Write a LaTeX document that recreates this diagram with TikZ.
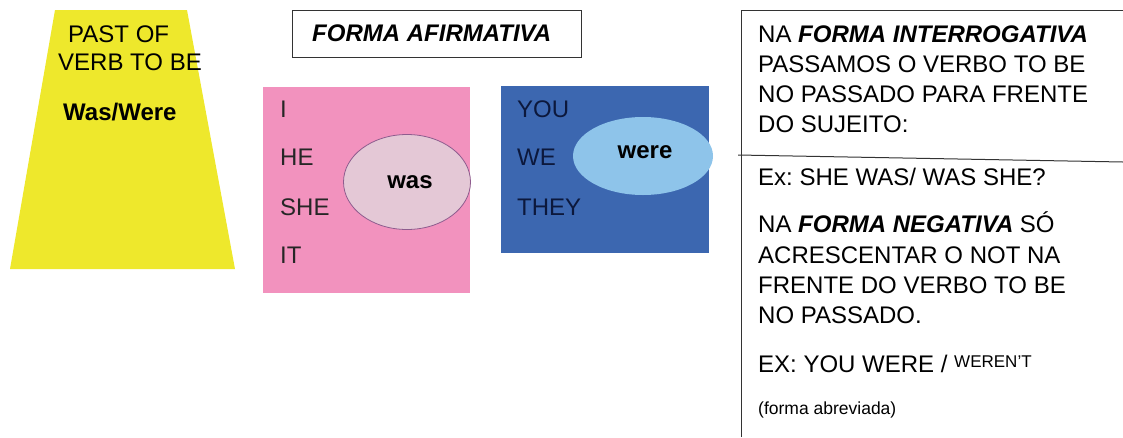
\documentclass[tikz,border=0pt]{standalone}
\usepackage{fontspec}
\setmainfont{Liberation Sans}
\usetikzlibrary{shapes.geometric}
\frenchspacing
\definecolor{ylw}{RGB}{238,232,44}
\definecolor{pnk}{RGB}{242,146,190}
\definecolor{blu}{RGB}{60,103,176}
\definecolor{lblu}{RGB}{142,196,234}
\definecolor{lpnk}{RGB}{228,200,214}
\definecolor{ellb}{RGB}{142,92,142}
\definecolor{navy}{RGB}{12,24,60}
\tikzset{
  big/.style={inner sep=0pt, anchor=base west, font=\fontsize{24}{30}\selectfont},
  small/.style={inner sep=0pt, anchor=base west, font=\fontsize{17}{20}\selectfont},
  frame/.style={draw=black!80, line width=1pt}
}
\begin{document}
\begin{tikzpicture}[x=1pt,y=-1pt]
\useasboundingbox (0,0) rectangle (1123,437);
% yellow trapezoid
\fill[ylw] (55,10) -- (187,10) -- (235,269) -- (10,269) -- cycle;
\node[big] (past) at (68,42) {PAST OF};
\node[big] (verb) at (58,70) {VERB TO BE};
\node[big, font=\fontsize{24}{30}\selectfont\bfseries] (waswere) at (63,120) {Was/Were};
% title box
\draw[frame] (292,10) rectangle (581,57);
\node[big, font=\fontsize{24}{30}\selectfont\bfseries\itshape] (afirm) at (312,41) {FORMA AFIRMATIVA};
% pink box
\fill[pnk] (263,87) rectangle (470,293);
\node[big, text=black!85] (i) at (280,117) {I};
\node[big, text=black!85] (he) at (280,165) {HE};
\node[big, text=black!85] (she) at (280,215) {SHE};
\node[big, text=black!85] (it) at (280,263) {IT};
\node[ellipse, fill=lpnk, draw=ellb, line width=0.8pt, minimum width=127pt, minimum height=95pt, inner sep=0pt] (wasell) at (407,182) {};
\node[big, anchor=base, font=\fontsize{24}{30}\selectfont\bfseries] (was) at (410,188) {was};
% blue box
\fill[blu] (501,86) rectangle (709,253);
\node[big, text=navy] (you) at (517,117) {YOU};
\node[big, text=navy] (we) at (517,165) {WE};
\node[big, text=navy] (they) at (517,215) {THEY};
\node[ellipse, fill=lblu, minimum width=140pt, minimum height=78pt, inner sep=0pt] (wereell) at (643,156) {};
\node[big, anchor=base, font=\fontsize{24}{30}\selectfont\bfseries] (were) at (645,158) {were};
% right panel
\coordinate (tl) at (741,10);
\coordinate (tr) at (1123,10);
\coordinate (bl) at (741,437);
\coordinate (ml) at (738,155);
\coordinate (mr) at (1123,162);
\draw[frame] (bl) -- (tl) -- (tr);
\draw[frame] (ml) -- (mr);
\node[big] (r1) at (758,42) {NA \textbf{\textit{FORMA INTERROGATIVA}}};
\node[big] (r2) at (758,72) {PASSAMOS O VERBO TO BE};
\node[big] (r3) at (758,102) {NO PASSADO PARA FRENTE};
\node[big] (r4) at (758,132) {DO SUJEITO:};
\node[big] (r5) at (758,185) {Ex: SHE WAS/ WAS SHE?};
\node[big] (r6) at (758,232) {NA \textbf{\textit{FORMA NEGATIVA}} SÓ};
\node[big] (r7) at (758,263) {ACRESCENTAR O NOT NA};
\node[big] (r8) at (758,293) {FRENTE DO VERBO TO BE};
\node[big] (r9) at (758,323) {NO PASSADO.};
\node[big] (r10) at (758,372) {EX: YOU WERE / \raisebox{5pt}{\fontsize{17}{20}\selectfont WEREN'T}};
\node[small, font=\fontsize{17.5}{20}\selectfont] (r11) at (758,414) {(forma abreviada)};
\end{tikzpicture}
\end{document}
